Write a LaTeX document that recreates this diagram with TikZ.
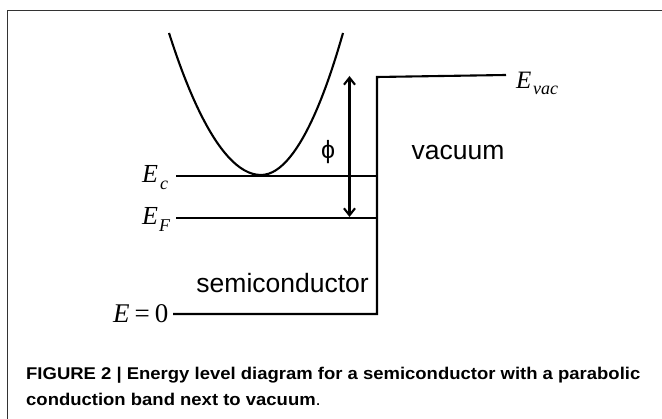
\documentclass[tikz,border=0pt]{standalone}
\usepackage{fontspec}
\setmainfont{Liberation Serif}
\setsansfont{Liberation Sans}
\usetikzlibrary{arrows.meta}
\begin{document}
\begin{tikzpicture}[x=1pt,y=-1pt,
  level/.style={line width=2.1pt},
  lbl/.style={inner sep=0pt, anchor=base west},
  sans/.style={inner sep=0pt, font=\sffamily\fontsize{26.5}{26.5}\selectfont}]
\useasboundingbox (0,0) rectangle (662,419);
\draw[line width=1pt, color=black!80] (7.7,419) -- (7.7,10.3) -- (662,10.3);
% parabola
\draw[line width=2.1pt] (169,33) parabola bend (261,175) (343,33);
% levels
\coordinate (ecL) at (176,176);
\coordinate (ecR) at (377,176);
\coordinate (efL) at (176,218);
\coordinate (efR) at (377,218);
\coordinate (e0L) at (173,314);
\coordinate (e0R) at (377,314);
\coordinate (wallT) at (377,77);
\coordinate (vacR) at (506,75);
\draw[level] (ecL) -- (ecR);
\draw[level] (efL) -- (efR);
\draw[level,line join=miter] (e0L) -- (e0R) -- (wallT) -- (vacR);
% phi arrow
\coordinate (arT) at (349.5,76);
\coordinate (arB) at (349.5,217);
\draw[line width=2.1pt, {Straight Barb[length=7pt,width=11pt]}-{Straight Barb[length=7pt,width=11pt]}] (arT) -- (arB);
\node[sans, font=\sffamily\fontsize{25}{25}\selectfont] (phi) at (328,152) {ϕ};
\node[sans] (vac) at (458,153) {vacuum};
\node[sans, anchor=base east] (semi) at (369,293) {semiconductor};
% labels
\node[lbl] (Ec) at (142,183) {\fontsize{26}{26}\selectfont\textit{E}};
\node[lbl] (Ecs) at (160,190) {\fontsize{18}{18}\selectfont\textit{c}};
\node[lbl] (EF) at (142,225) {\fontsize{26}{26}\selectfont\textit{E}};
\node[lbl] (EFs) at (159,232) {\fontsize{18}{18}\selectfont\textit{F}};
\node[lbl] (E0) at (113,323) {\fontsize{27}{27}\selectfont\textit{E}\hspace{5pt}=\hspace{5pt}0};
\node[lbl] (Evac) at (516,89) {\fontsize{25}{25}\selectfont\textit{E}};
\node[lbl] (Evacs) at (533,95) {\fontsize{18}{18}\selectfont\textit{vac}};
% caption
\node[anchor=west, inner sep=0pt, font=\sffamily\bfseries\fontsize{17}{17}\selectfont] (cap1) at (26,375) {\scalebox{1.087}[1]{FIGURE 2 | Energy level diagram for a semiconductor with a parabolic}};
\node[anchor=west, inner sep=0pt, font=\sffamily\bfseries\fontsize{17}{17}\selectfont] (cap2) at (26,399) {\scalebox{1.087}[1]{conduction band next to vacuum\textmd{.}}};
\end{tikzpicture}
\end{document}
